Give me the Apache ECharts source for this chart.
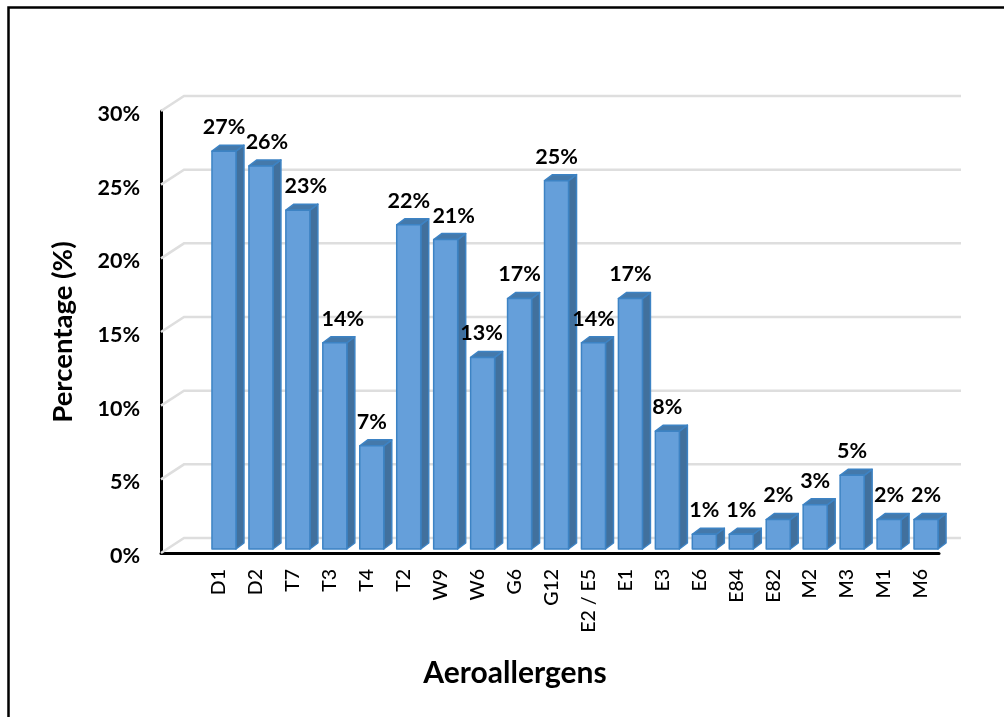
<!DOCTYPE html>
<html>
<head>
<meta charset="utf-8">
<script src="https://cdn.jsdelivr.net/npm/echarts@6/dist/echarts.min.js"></script>
<style>html,body{margin:0;padding:0;background:#fff}#c{width:1004px;height:717px}</style>
</head>
<body>
<div id="c"></div>
<script>
const categories = ['D1','D2','T7','T3','T4','T2','W9','W6','G6','G12','E2 / E5','E1','E3','E6','E84','E82','M2','M3','M1','M6'];
const percentages = [27,26,23,14,7,22,21,13,17,25,14,17,8,1,1,2,3,5,2,2];
const yTicks = [0,5,10,15,20,25,30];
const labelShiftX = [0,6,8,8,0,0,8,-1,0,0,0,0,0,0,0,0,0,0,0,0];

const FONT = 'Lato';
const DX = 8, DY = 6;

const chart = echarts.init(document.getElementById('c'), null, {renderer:'canvas'});
chart.setOption({
  animation:false,
  backgroundColor:'#ffffff',
  grid:[
    {left:161, top:111, width:778, height:442},
    {left:205.5, top:107, width:739, height:442}
  ],
  xAxis:[
    {gridIndex:0, type:'value', min:0, max:1, axisLabel:{show:false}, axisTick:{show:false}, splitLine:{show:false},
     axisLine:{show:true, onZero:false, lineStyle:{color:'#000', width:3}},
     name:'Aeroallergens', nameLocation:'middle', nameGap:105,
     nameTextStyle:{fontFamily:FONT, fontWeight:'bold', fontSize:30, color:'#000', padding:[0,70,0,0]}},
    {gridIndex:1, type:'category', data:categories, axisLine:{show:false}, axisTick:{show:false},
     axisLabel:{interval:0, rotate:90, margin:20, fontFamily:FONT, fontWeight:500, fontSize:19.5, color:'#000', verticalAlign:'bottom', lineHeight:10}}
  ],
  yAxis:[
    {gridIndex:0, type:'value', min:0, max:30, interval:5, splitLine:{show:false}, axisTick:{show:false},
     axisLine:{show:true, lineStyle:{color:'#000', width:3}},
     axisLabel:{margin:21, fontFamily:FONT, fontWeight:'bold', fontSize:21.5, color:'#000', formatter:'{value}%', verticalAlign:'top', lineHeight:6},
     name:'Percentage (%)', nameLocation:'middle', nameGap:84,
     nameTextStyle:{fontFamily:FONT, fontWeight:'bold', fontSize:27.5, color:'#000'}},
    {gridIndex:1, type:'value', min:0, max:30, interval:5, show:false}
  ],
  series:[
    {
      type:'custom', xAxisIndex:0, yAxisIndex:0, silent:true, z:1,
      data:yTicks.map(v=>[0,v]),
      clip:false,
      renderItem(params, api){
        const p = api.coord([0, api.value(1)]);
        const end = api.coord([1, api.value(1)]);
        return {type:'polyline', shape:{points:[[p[0],p[1]],[p[0]+23,p[1]-15],[end[0]+22,p[1]-15]]},
          style:{fill:null, stroke:'#dedede', lineWidth:2.5}};
      }
    },
    {
      type:'custom', xAxisIndex:1, yAxisIndex:1, z:3,
      data:percentages.map((v,i)=>[i,v]),
      clip:false,
      renderItem(params, api){
        const i = api.value(0), v = api.value(1);
        const top = api.coord([i, v]), base = api.coord([i, 0]);
        const w = api.size([1,0])[0]*0.65;
        const l = top[0]-w/2, r = top[0]+w/2, t = top[1], b = base[1];
        const edge = {stroke:'#3d83c4', lineWidth:1.5, lineJoin:'round'};
        return {type:'group', children:[
          {type:'polygon', shape:{points:[[r,t],[r+DX,t-DY],[r+DX,b-DY],[r,b]]}, style:Object.assign({fill:'#41709d'},edge)},
          {type:'polygon', shape:{points:[[l,t],[l+DX,t-DY],[r+DX,t-DY],[r,t]]}, style:Object.assign({fill:'#4479ab'},edge)},
          {type:'rect', shape:{x:l, y:t, width:w, height:b-t}, style:Object.assign({fill:'#659fda'},edge)},
          {type:'text', x:top[0]+labelShiftX[i], y:t-24, style:{text:v+'%', align:'center', verticalAlign:'middle',
            fontFamily:FONT, fontWeight:'bold', fontSize:21.5, fill:'#000'}}
        ]};
      }
    }
  ],
  graphic:[
    {type:'polyline', silent:true, shape:{points:[[1004,7.5],[8.5,7.5],[8.5,717]]}, style:{fill:null, stroke:'#000', lineWidth:2.5}}
  ]
});
</script>
</body>
</html>
